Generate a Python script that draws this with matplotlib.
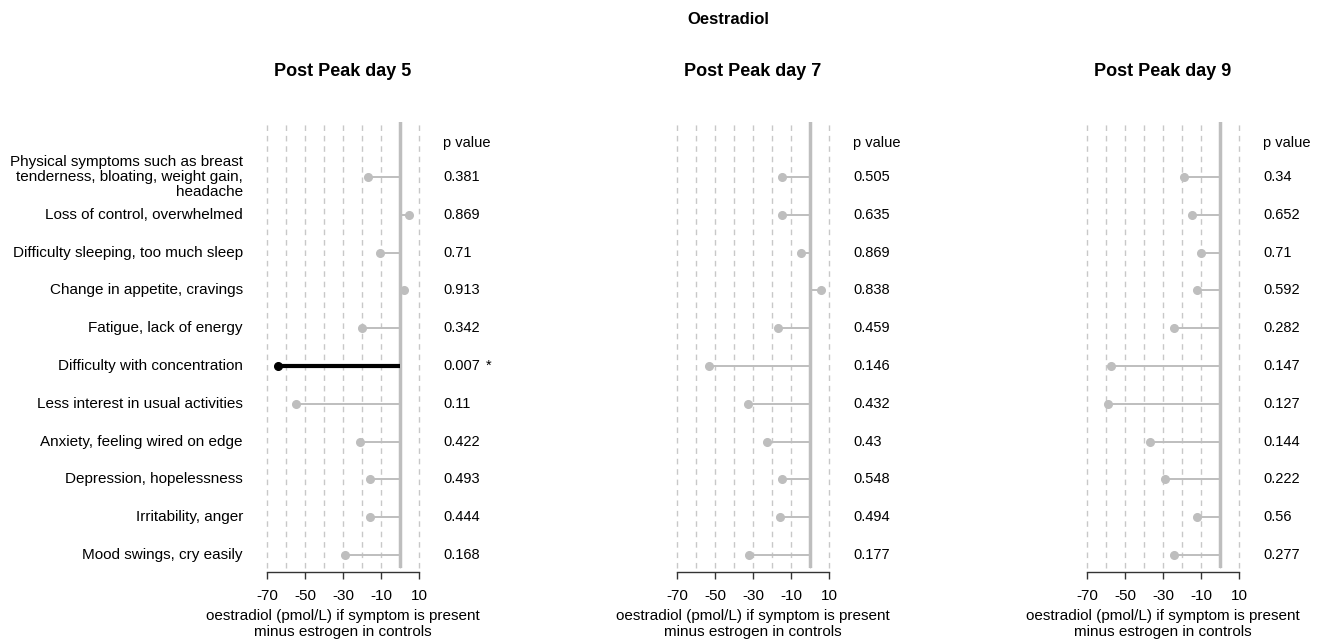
import matplotlib
matplotlib.use("Agg")
import matplotlib.pyplot as plt

plt.rcParams["font.family"] = ["Liberation Sans", "DejaVu Sans"]
plt.rcParams["axes.unicode_minus"] = False

symptoms = [
    "Physical symptoms such as breast\ntenderness, bloating, weight gain,\nheadache",
    "Loss of control, overwhelmed",
    "Difficulty sleeping, too much sleep",
    "Change in appetite, cravings",
    "Fatigue, lack of energy",
    "Difficulty with concentration",
    "Less interest in usual activities",
    "Anxiety, feeling wired on edge",
    "Depression, hopelessness",
    "Irritability, anger",
    "Mood swings, cry easily",
]
panel_titles = ["Post Peak day 5", "Post Peak day 7", "Post Peak day 9"]

diff_day5 = [-17, 4.5, -10.5, 2.3, -20, -64, -55, -21, -16, -16, -29]
diff_day7 = [-15, -15, -4.5, 5.8, -17, -53, -32.5, -22.5, -15, -16, -32]
diff_day9 = [-19, -15, -10, -12, -24, -57.5, -59, -37, -29, -12, -24]

p_day5 = ["0.381", "0.869", "0.71", "0.913", "0.342", "0.007", "0.11", "0.422", "0.493", "0.444", "0.168"]
p_day7 = ["0.505", "0.635", "0.869", "0.838", "0.459", "0.146", "0.432", "0.43", "0.548", "0.494", "0.177"]
p_day9 = ["0.34", "0.652", "0.71", "0.592", "0.282", "0.147", "0.127", "0.144", "0.222", "0.56", "0.277"]

diffs = [diff_day5, diff_day7, diff_day9]
pvals = [p_day5, p_day7, p_day9]

W, H = 1322, 640
fig = plt.figure(figsize=(W / 100, H / 100), dpi=100)

GRAY = "#BEBEBE"
GRID = "#C8C8C8"
FS = 11
panel_left = [267, 677, 1087]
panel_w = 152
top, bottom = 122, 568

fig.text(728 / W, 1 - 20 / H, "Oestradiol", ha="center", va="center",
         fontsize=12, fontweight="bold")

n = len(symptoms)
for k in range(3):
    x0 = panel_left[k]
    ax = fig.add_axes([x0 / W, 1 - bottom / H, panel_w / W, (bottom - top) / H])
    ax.set_xlim(-70, 10)
    ax.set_ylim(n - 1 + 0.344, -1.455)
    for s in ["top", "right", "left"]:
        ax.spines[s].set_visible(False)
    ax.spines["bottom"].set_bounds(-70, 10)
    ax.spines["bottom"].set_position(("outward", 3))
    ax.spines["bottom"].set_linewidth(1)
    ax.spines["bottom"].set_color("#333333")
    ax.set_yticks([])
    ax.set_xticks([-70, -50, -30, -10, 10])
    ax.tick_params(axis="x", length=5, width=1, color="#333333",
                   labelsize=FS, pad=7)

    # dashed reference grid every 10 units, solid line at zero
    for g in range(-70, 11, 10):
        ax.axvline(g, color=GRID, lw=1, ls=(0, (4, 3.5)), zorder=1, clip_on=False)
    ax.axvline(0, color=GRAY, lw=2.5, zorder=2)

    for i in range(n):
        v = diffs[k][i]
        p = pvals[k][i]
        sig = float(p) < 0.05
        col = "black" if sig else GRAY
        lw = 3 if sig else 1.4
        ax.plot([v, 0], [i, i], color=col, lw=lw, zorder=3, solid_capstyle="butt")
        ax.plot([v], [i], "o", color=col, ms=5.5, zorder=4, clip_on=False)
        ax.text(1.158, i, p, transform=ax.get_yaxis_transform(), ha="left",
                va="center", fontsize=10.5, clip_on=False)
        if sig:
            ax.text(1.44, i, "*", transform=ax.get_yaxis_transform(), ha="left",
                    va="center", fontsize=10.5, clip_on=False)
        if k == 0:
            ax.text(-0.158, i, symptoms[i], transform=ax.get_yaxis_transform(),
                    ha="right", va="center", fontsize=FS, linespacing=1.12,
                    clip_on=False)

    ax.text(1.158, -0.9, "p value", transform=ax.get_yaxis_transform(), ha="left",
            va="center", fontsize=10.5, clip_on=False)

    cx = x0 + panel_w / 2
    fig.text(cx / W, 1 - 72 / H, panel_titles[k], ha="center", va="center",
             fontsize=13, fontweight="bold")
    fig.text(cx / W, 1 - 624 / H,
             "oestradiol (pmol/L) if symptom is present\nminus estrogen in controls",
             ha="center", va="center", fontsize=FS, linespacing=1.1)

fig.savefig("out.png", dpi=100)
